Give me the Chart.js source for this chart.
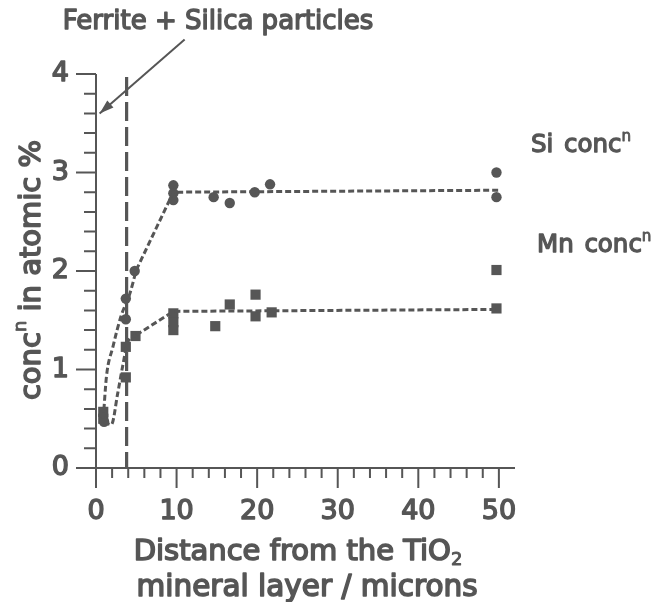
<!DOCTYPE html>
<html>
<head>
<meta charset="utf-8">
<script src="https://cdn.jsdelivr.net/npm/chart.js@4"></script>
<style>
  html, body { margin: 0; padding: 0; background: #fff; }
  #wrap { width: 653px; height: 602px; position: relative; }
</style>
</head>
<body>
<div id="wrap"><canvas id="c"></canvas></div>
<script>
// Measured Si concentration (atomic %) vs distance from the TiO2 layer (microns)
const siX = [1.0, 3.7, 3.7, 4.8, 9.6, 9.6, 9.6, 14.6, 16.6, 19.7, 21.6, 49.7, 49.7];
const siY = [0.47, 1.72, 1.51, 2.00, 2.87, 2.79, 2.72, 2.75, 2.69, 2.80, 2.88, 3.00, 2.75];

// Measured Mn concentration (atomic %)
const mnX = [0.9, 0.9, 3.7, 3.7, 4.9, 9.6, 9.6, 9.6, 14.8, 16.6, 19.8, 19.8, 21.8, 49.7, 49.7];
const mnY = [0.57, 0.50, 0.92, 1.23, 1.34, 1.57, 1.48, 1.40, 1.44, 1.66, 1.76, 1.54, 1.58, 2.01, 1.62];

// Hand-fitted trend curves: curved rise near the interface, then straight runs
const siRiseX = [0.9, 1.3, 2.1, 3.1, 4.2, 5.0];
const siRiseY = [0.50, 0.93, 1.23, 1.54, 1.77, 2.01];
const siFlatX = [5.0, 9.6, 50];
const siFlatY = [2.01, 2.80, 2.82];

const mnRiseX = [1.0, 1.9, 2.7, 3.3, 3.95, 5.0];
const mnRiseY = [0.47, 0.44, 0.76, 1.03, 1.28, 1.35];
const mnFlatX = [5.0, 9.6, 50];
const mnFlatY = [1.35, 1.59, 1.61];

// Axis ticks
const xMajorTicks = [0, 10, 20, 30, 40, 50];
const xMinorStep = 2;
const yMajorTicks = [0, 1, 2, 3, 4];
const yMinorStep = 0.2;

// Position of the ferrite + silica particle band
const particleX = 3.8;

const INK = '#565656';
const FONT = '"DejaVu Sans", sans-serif';

const pts = (xs, ys) => xs.map((x, i) => ({ x, y: ys[i] }));

function setFont(ctx, size) {
  ctx.font = `${size}px ${FONT}`;
}

function richWidth(ctx, parts, size) {
  let w = 0;
  for (const p of parts) {
    setFont(ctx, (p.sup || p.sub) ? size * 0.62 : size);
    w += ctx.measureText(p.t).width + (p.gap || 0) * size;
  }
  return w;
}

// Draws text made of normal / superscript / subscript pieces, slightly emboldened
function drawRich(ctx, parts, x, y, size, align) {
  const w = richWidth(ctx, parts, size);
  let cx = align === 'center' ? x - w / 2 : (align === 'right' ? x - w : x);
  ctx.textBaseline = 'middle';
  ctx.textAlign = 'left';
  ctx.lineJoin = 'round';
  for (const p of parts) {
    const s = (p.sup || p.sub) ? size * 0.62 : size;
    setFont(ctx, s);
    let dy = 0;
    if (p.sup) dy = -size * 0.36;
    if (p.sub) dy = size * 0.28;
    ctx.lineWidth = s * 0.055;
    ctx.fillText(p.t, cx, y + dy);
    ctx.strokeText(p.t, cx, y + dy);
    cx += ctx.measureText(p.t).width + (p.gap || 0) * size;
  }
}

const framePlugin = {
  id: 'frame',
  beforeDatasetsDraw(chart) {
    const { ctx, scales: { x, y } } = chart;
    const x0 = x.getPixelForValue(0), y0 = y.getPixelForValue(0);
    ctx.save();
    ctx.strokeStyle = INK;
    ctx.lineWidth = 2;
    ctx.lineCap = 'butt';

    // axis lines
    ctx.beginPath();
    ctx.moveTo(x0, y.getPixelForValue(4));
    ctx.lineTo(x0, y0);
    ctx.moveTo(x0, y0);
    ctx.lineTo(x.getPixelForValue(52), y0);
    ctx.stroke();

    // x ticks (downwards)
    ctx.beginPath();
    for (let v = 0; v <= 50 + 1e-9; v += xMinorStep) {
      const px = x.getPixelForValue(v);
      const major = xMajorTicks.includes(Math.round(v));
      ctx.moveTo(px, y0);
      ctx.lineTo(px, y0 + (major ? 20 : 10));
    }
    // y ticks (leftwards)
    for (let i = 0; i <= 20; i++) {
      const v = i * yMinorStep;
      const py = y.getPixelForValue(v);
      const major = i % 5 === 0;
      ctx.moveTo(x0, py);
      ctx.lineTo(x0 - (major ? 20 : 12), py);
    }
    ctx.stroke();

    // particle band marker: long dashed vertical line
    const pxp = x.getPixelForValue(particleX);
    ctx.lineWidth = 3.2;
    ctx.setLineDash([19, 6]);
    ctx.beginPath();
    ctx.moveTo(pxp, y.getPixelForValue(3.97));
    ctx.lineTo(pxp, y0);
    ctx.stroke();
    ctx.setLineDash([]);
    ctx.restore();
  },
  afterDraw(chart) {
    const { ctx, scales: { x, y } } = chart;
    const x0 = x.getPixelForValue(0), y0 = y.getPixelForValue(0);
    ctx.save();
    ctx.fillStyle = INK;
    ctx.strokeStyle = INK;

    // tick labels
    for (const v of xMajorTicks) drawRich(ctx, [{ t: String(v) }], x.getPixelForValue(v), y0 + 44, 27, 'center');
    for (const v of yMajorTicks) drawRich(ctx, [{ t: String(v) }], x0 - 27, y.getPixelForValue(v), 27, 'right');

    // x axis title (two lines)
    drawRich(ctx, [{ t: 'Distance from the TiO' }, { t: '2', sub: true }], 298, 552, 29, 'center');
    drawRich(ctx, [{ t: 'mineral layer / microns' }], 307, 588, 29.5, 'center');

    // y axis title
    ctx.save();
    ctx.translate(32, 270);
    ctx.rotate(-Math.PI / 2);
    drawRich(ctx, [{ t: 'conc' }, { t: 'n', sup: true }, { t: ' in atomic %' }], 0, 0, 29, 'center');
    ctx.restore();

    // series labels
    drawRich(ctx, [{ t: 'Si ', gap: 0.12 }, { t: 'conc' }, { t: 'n', sup: true }], 531, 146, 24.5, 'left');
    drawRich(ctx, [{ t: 'Mn ', gap: 0.12 }, { t: 'conc' }, { t: 'n', sup: true }], 537, 246, 24.5, 'left');

    // annotation with arrow
    drawRich(ctx, [{ t: 'Ferrite + Silica particles' }], 218, 22, 26, 'center');
    const tx = x.getPixelForValue(11.0), ty = y.getPixelForValue(4.35);
    const hx = x.getPixelForValue(0.45), hy = y.getPixelForValue(3.6);
    ctx.lineWidth = 2;
    ctx.beginPath();
    ctx.moveTo(tx, ty);
    ctx.lineTo(hx, hy);
    ctx.stroke();
    const ang = Math.atan2(hy - ty, hx - tx);
    const L = 15, W = 0.32;
    ctx.beginPath();
    ctx.moveTo(hx, hy);
    ctx.lineTo(hx - L * Math.cos(ang - W), hy - L * Math.sin(ang - W));
    ctx.lineTo(hx - L * Math.cos(ang + W), hy - L * Math.sin(ang + W));
    ctx.closePath();
    ctx.fill();
    ctx.restore();
  }
};

const fitStyle = {
  showLine: true,
  pointRadius: 0,
  borderColor: INK,
  borderWidth: 3,
  borderDash: [6, 3],
  fill: false,
  clip: false
};

new Chart(document.getElementById('c'), {
  type: 'scatter',
  data: {
    datasets: [
      Object.assign({ label: 'Si trend rise', data: pts(siRiseX, siRiseY), cubicInterpolationMode: 'monotone' }, fitStyle),
      Object.assign({ label: 'Si trend', data: pts(siFlatX, siFlatY), tension: 0 }, fitStyle),
      Object.assign({ label: 'Mn trend rise', data: pts(mnRiseX, mnRiseY), cubicInterpolationMode: 'monotone' }, fitStyle),
      Object.assign({ label: 'Mn trend', data: pts(mnFlatX, mnFlatY), tension: 0 }, fitStyle),
      {
        label: 'Si conc',
        data: pts(siX, siY),
        pointStyle: 'circle',
        pointRadius: 5.2,
        backgroundColor: INK,
        borderColor: INK,
        borderWidth: 0,
        showLine: false,
        clip: false
      },
      {
        label: 'Mn conc',
        data: pts(mnX, mnY),
        pointStyle: 'rect',
        pointRadius: 7.2,
        backgroundColor: INK,
        borderColor: INK,
        borderWidth: 0,
        showLine: false,
        clip: false
      }
    ]
  },
  options: {
    responsive: true,
    maintainAspectRatio: false,
    animation: false,
    layout: { padding: { left: 96, top: 74, right: 138, bottom: 134 } },
    plugins: { legend: { display: false }, tooltip: { enabled: false } },
    scales: {
      x: { type: 'linear', min: 0, max: 52, display: false },
      y: { type: 'linear', min: 0, max: 4, display: false }
    }
  },
  plugins: [framePlugin]
});
</script>
</body>
</html>
